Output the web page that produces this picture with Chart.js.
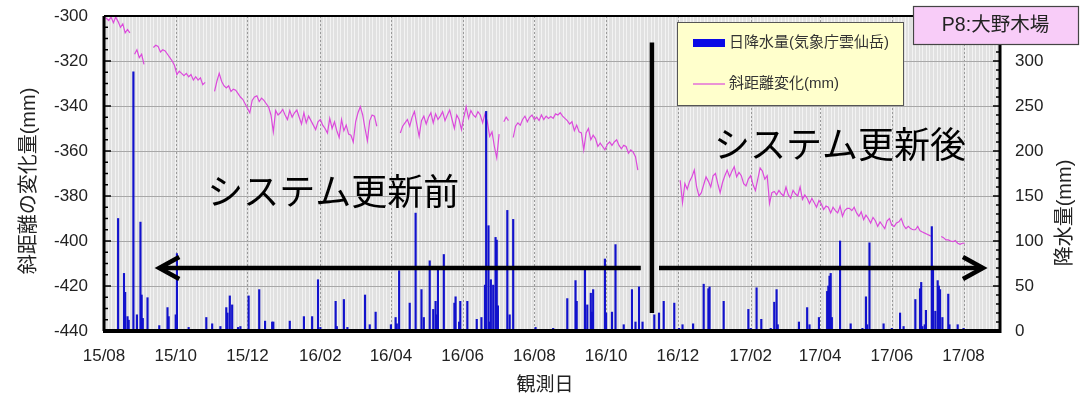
<!DOCTYPE html>
<html>
<head>
<meta charset="utf-8">
<script src="https://cdn.jsdelivr.net/npm/chart.js@4/dist/chart.umd.min.js"></script>
<style>
  html, body { margin: 0; padding: 0; background: #ffffff; }
  #wrap { width: 1090px; height: 398px; position: relative; }
</style>
</head>
<body>
<div id="wrap"><canvas id="c" width="1090" height="398"></canvas></div>
<script>
// ---- axis range and tick labels ----
const axisStart = '2015-08-01';
const axisEnd = '2017-09-01';
const tickDates = ['2015-08-01','2015-10-01','2015-12-01','2016-02-01','2016-04-01','2016-06-01',
                   '2016-08-01','2016-10-01','2016-12-01','2017-02-01','2017-04-01','2017-06-01','2017-08-01'];
const tickLabels = ['15/08','15/10','15/12','16/02','16/04','16/06','16/08','16/10','16/12','17/02','17/04','17/06','17/08'];

// ---- daily precipitation (mm), JMA Unzendake ----
const rainDates = [
  '2015-08-13','2015-08-18','2015-08-19','2015-08-21','2015-08-22','2015-08-26','2015-08-29','2015-09-01','2015-09-02','2015-09-03',
  '2015-09-07','2015-09-17','2015-09-24','2015-09-25','2015-10-01','2015-10-02','2015-10-12','2015-10-27','2015-11-01','2015-11-08',
  '2015-11-13','2015-11-14','2015-11-16','2015-11-18','2015-11-23','2015-11-25','2015-12-02','2015-12-11','2015-12-16','2015-12-22',
  '2015-12-23','2016-01-06','2016-01-18','2016-01-25','2016-01-30','2016-02-01','2016-02-14','2016-02-15','2016-02-21','2016-02-24',
  '2016-03-10','2016-03-14','2016-03-19','2016-04-01','2016-04-05','2016-04-06','2016-04-08','2016-04-17','2016-04-22','2016-04-27',
  '2016-04-29','2016-05-04','2016-05-07','2016-05-09','2016-05-10','2016-05-11','2016-05-16','2016-05-25','2016-05-26','2016-05-29',
  '2016-05-30','2016-06-05','2016-06-13','2016-06-17','2016-06-20','2016-06-21','2016-06-23','2016-06-24','2016-06-25','2016-06-27',
  '2016-06-29','2016-06-30','2016-07-01','2016-07-09','2016-07-11','2016-07-14','2016-08-02','2016-08-17','2016-08-29','2016-09-05',
  '2016-09-06','2016-09-13','2016-09-15','2016-09-18','2016-09-19','2016-09-20','2016-09-30','2016-10-01','2016-10-06','2016-10-09',
  '2016-10-16','2016-10-23','2016-10-26','2016-10-29','2016-11-01','2016-11-11','2016-11-15','2016-11-19','2016-11-28','2016-12-02',
  '2016-12-05','2016-12-14','2016-12-23','2016-12-27','2016-12-28','2017-01-09','2017-01-30','2017-02-01','2017-02-06','2017-02-10',
  '2017-02-18','2017-02-21','2017-02-23','2017-02-24','2017-03-14','2017-03-21','2017-03-23','2017-03-31','2017-04-07','2017-04-08',
  '2017-04-09','2017-04-10','2017-04-11','2017-04-18','2017-04-27','2017-05-07','2017-05-10','2017-05-11','2017-05-13','2017-05-25',
  '2017-06-01','2017-06-08','2017-06-11','2017-06-21','2017-06-25','2017-06-26','2017-06-27','2017-06-29','2017-06-30','2017-07-05',
  '2017-07-06','2017-07-08','2017-07-10','2017-07-11','2017-07-12','2017-07-14','2017-07-19','2017-07-20','2017-07-27','2017-08-01'
];
const rainValues = [
  125, 64, 43, 16, 12, 288, 18, 121, 40, 14,
  37, 6, 26, 16, 18, 86, 4, 15, 8, 5,
  26, 20, 39, 29, 4, 5, 39, 46, 11, 10,
  10, 11, 16, 16, 57, 4, 33, 5, 35, 4,
  40, 7, 21, 7, 15, 8, 67, 31, 131, 46,
  15, 78, 24, 33, 18, 68, 85, 31, 38, 10,
  33, 33, 13, 15, 51, 244, 117, 10, 57, 51,
  104, 101, 28, 134, 18, 124, 4, 3, 36, 56,
  33, 68, 29, 42, 21, 46, 80, 20, 21, 96,
  7, 46, 10, 49, 10, 18, 20, 33, 31, 3,
  7, 8, 52, 47, 49, 33, 24, 3, 48, 13,
  3, 32, 46, 7, 10, 26, 7, 15, 44, 50,
  61, 64, 15, 100, 8, 3, 38, 7, 98, 8,
  3, 20, 5, 35, 47, 54, 5, 7, 23, 116,
  72, 22, 56, 50, 46, 15, 41, 7, 7, 3
];

// ---- slope distance change (mm), sampled every 2 days; each run is a continuous record ----
const distStepDays = 2;
const distRunStarts = ['2015-08-01','2015-08-27','2015-09-12','2015-11-03','2016-04-09','2016-07-06','2016-07-14','2016-12-03','2017-07-13'];
const distRun1 = [-300.5,-301,-302,-300.5,-303,-300.5,-302.5,-305,-303.5,-307.5,-306,-307.5];
const distRun2 = [-317,-315,-318.5,-317,-321.5];
const distRun3 = [-314,-313,-313.5,-316,-315,-315.5,-317,-318.5,-320,-322,-326,-324.5,-325.5,-326.5,-325.5,-327,-326,-328.5,-327,-328.5,-327.5,-330.5,-329.5];
const distRun4 = [
  -333.5,-329,-325.5,-329,-331,-332,-331,-333.5,-332.5,-333,-334.5,-336,-337,-339,-341,-343,-337.5,-336,-335.5,-338,
  -336.5,-337.5,-339,-340.5,-344,-351.5,-342,-344,-343,-341.5,-344,-346,-342,-345,-343,-341.8,-345,-348,-343,-347.5,
  -344.5,-346.5,-348.5,-350.5,-347,-346,-348.5,-350,-352,-345.5,-350,-347,-351,-354,-346,-351,-348.5,-352.5,-353,-356,
  -347,-343,-340.3,-344,-350,-355.5,-346.5,-344,-344.5,-349
];
const distRun5 = [
  -352,-349,-347.5,-346,-349,-345,-342.5,-348,-353.5,-346.5,-344.5,-348,-345,-343,-347.5,-343.5,-346,-344.5,-342.5,-346.5,
  -344,-341.8,-346,-350,-344,-346,-350.5,-345,-340.3,-345.5,-342,-344,-345,-342.5,-344,-347.5,-343.5,-347,-353.5,-351.5,
  -358,-363,-352.5
];
const distRun6 = [-347,-345,-346.5];
const distRun7 = [
  -354,-349,-347.5,-348.5,-346,-344.5,-347,-345,-344,-346,-345,-346.5,-344,-346,-344.5,-345.5,-344.7,-345.5,-343.5,-344,
  -343,-344.5,-345.5,-346.5,-348,-347,-351,-348.5,-351.5,-352,-359.5,-352,-350,-355,-353,-354.5,-358,-356.5,-358,-359.5,
  -357,-356,-357.5,-356,-355,-357.5,-359,-357.5,-358,-361,-359.5,-360.5,-362.5,-368.5
];
const distRun8 = [
  -373,-383,-374.5,-377,-373.5,-371.5,-368.5,-376,-380,-378.5,
  -375,-371.5,-373.5,-376,-371,-370,-374.5,-378.5,-374,-371,
  -368.5,-371.5,-369,-367,-371.5,-369.5,-371,-374.5,-375.5,-372.5,
  -371,-375,-377.5,-372.5,-367.5,-369,-372.5,-371,-383.3,-378.5,
  -378,-379.5,-377.5,-379,-380,-376,-379.5,-381,-377.5,-379,
  -380,-376,-381.5,-379.5,-381,-383.3,-381,-383,-385,-382,
  -383.5,-386,-384.5,-385,-387.5,-385,-386.5,-387.5,-384.5,-389,
  -386.5,-385.5,-385.5,-386.5,-385,-387.5,-389,-387,-390.5,-388.5,
  -390,-392,-389.5,-391,-393.5,-391.5,-393,-394.5,-391,-390,
  -393,-393.5,-392,-391.5,-390,-393,-394.5,-393.5,-394.5,-395,
  -395,-393.5,-395.5,-396,-396.5,-397,-397.5,-398
];
const distRun9 = [-398,-398.5,-399.5,-399.5,-400,-400.3,-399.8,-401,-401.5,-401,-401];
const distRuns = [distRun1, distRun2, distRun3, distRun4, distRun5, distRun6, distRun7, distRun8, distRun9];

const rainLabel = '日降水量(気象庁雲仙岳)';
const distLabel = '斜距離変化(mm)';
const stationLabel = 'P8:大野木場';
const beforeLabel = 'システム更新前';
const afterLabel = 'システム更新後';

// ---- helpers ----
const FONT = '"Liberation Sans", "Noto Sans CJK JP", Arial, sans-serif';
const CJK = '"Noto Sans CJK JP", "Liberation Sans", sans-serif';
const ORIGIN = (() => { const p = axisStart.split('-').map(Number); return Date.UTC(p[0], p[1] - 1, p[2]); })();
function dayOf(s) {
  const p = s.split('-').map(Number);
  return Math.round((Date.UTC(p[0], p[1] - 1, p[2]) - ORIGIN) / 86400000);
}

const rainPoints = rainDates.map((s, i) => ({ x: dayOf(s), y: rainValues[i] }));
const distPoints = [];
distRunStarts.forEach((s, k) => {
  const d0 = dayOf(s);
  const run = distRuns[k];
  run.forEach((v, i) => distPoints.push({ x: d0 + i * distStepDays, y: v }));
  distPoints.push({ x: d0 + (run.length - 1) * distStepDays + 1, y: null });
});
const tickDays = tickDates.map(dayOf);

// annotation anchors (data units)
const updateDay = dayOf('2016-11-09');
const arrowLevel = -412;
const arrowLeftTip = 47, arrowLeftEnd = 456.5, arrowRightStart = 472, arrowRightTip = 747.5;

const framePlugin = {
  id: 'frame',
  beforeDatasetsDraw(chart) {
    const { ctx, chartArea: a, scales } = chart;
    ctx.save();
    ctx.fillStyle = '#e1e1e1';
    ctx.fillRect(a.left, a.top, a.right - a.left, a.bottom - a.top);
    // fine vertical grid
    ctx.strokeStyle = '#f3f3f3';
    ctx.lineWidth = 1;
    const xs = scales.x;
    for (let d = 0; d <= xs.max; d += 3) {
      const px = Math.round(xs.getPixelForValue(d)) + 0.5;
      ctx.beginPath(); ctx.moveTo(px, a.top); ctx.lineTo(px, a.bottom); ctx.stroke();
    }
    // major vertical grid (dotted)
    ctx.strokeStyle = '#9a9a9a';
    ctx.setLineDash([2, 2]);
    tickDays.forEach(d => {
      const px = Math.round(xs.getPixelForValue(d)) + 0.5;
      ctx.beginPath(); ctx.moveTo(px, a.top); ctx.lineTo(px, a.bottom); ctx.stroke();
    });
    ctx.setLineDash([]);
    // horizontal grid
    ctx.strokeStyle = '#a8a8a8';
    for (let v = -420; v < -300; v += 20) {
      const py = Math.round(scales.y.getPixelForValue(v)) + 0.5;
      ctx.beginPath(); ctx.moveTo(a.left, py); ctx.lineTo(a.right, py); ctx.stroke();
    }
    ctx.restore();
  },
  afterDatasetsDraw(chart) {
    const { ctx, chartArea: a, scales } = chart;
    ctx.save();
    ctx.strokeStyle = '#000';
    // axis ticks
    ctx.lineWidth = 1.5;
    for (let v = -440; v <= -300; v += 5) {
      const py = scales.y.getPixelForValue(v);
      const len = (v % 20 === 0) ? 7 : 4;
      ctx.beginPath(); ctx.moveTo(a.left, py); ctx.lineTo(a.left + len, py); ctx.stroke();
    }
    for (let v = 0; v <= 350; v += 10) {
      const py = scales.y2.getPixelForValue(v);
      const len = (v % 50 === 0) ? 7 : 4;
      ctx.beginPath(); ctx.moveTo(a.right, py); ctx.lineTo(a.right - len, py); ctx.stroke();
    }
    // frame
    ctx.lineWidth = 2;
    ctx.beginPath(); ctx.moveTo(a.left, a.top); ctx.lineTo(a.right, a.top); ctx.stroke();
    ctx.lineWidth = 3;
    ctx.beginPath(); ctx.moveTo(a.left, a.top); ctx.lineTo(a.left, a.bottom); ctx.stroke();
    ctx.beginPath(); ctx.moveTo(a.right, a.top); ctx.lineTo(a.right, a.bottom + 2); ctx.stroke();
    ctx.lineWidth = 4;
    ctx.beginPath(); ctx.moveTo(a.left - 1, a.bottom); ctx.lineTo(a.right + 1, a.bottom); ctx.stroke();

    // system update divider and period arrows
    const X = d => scales.x.getPixelForValue(d);
    const Y = v => scales.y.getPixelForValue(v);
    ctx.lineWidth = 4.5;
    ctx.beginPath(); ctx.moveTo(X(updateDay), Y(-311.8)); ctx.lineTo(X(updateDay), Y(-432)); ctx.stroke();
    const ay = Y(arrowLevel);
    ctx.lineCap = 'butt';
    ctx.beginPath(); ctx.moveTo(X(arrowLeftTip) + 2, ay); ctx.lineTo(X(arrowLeftEnd), ay); ctx.stroke();
    ctx.beginPath(); ctx.moveTo(X(arrowRightStart), ay); ctx.lineTo(X(arrowRightTip) - 2, ay); ctx.stroke();
    ctx.lineJoin = 'miter';
    ctx.beginPath();
    ctx.moveTo(X(arrowLeftTip) + 20, ay - 11); ctx.lineTo(X(arrowLeftTip), ay); ctx.lineTo(X(arrowLeftTip) + 20, ay + 11);
    ctx.stroke();
    ctx.beginPath();
    ctx.moveTo(X(arrowRightTip) - 20, ay - 11); ctx.lineTo(X(arrowRightTip), ay); ctx.lineTo(X(arrowRightTip) - 20, ay + 11);
    ctx.stroke();

    ctx.fillStyle = '#000';
    ctx.font = '36px ' + CJK;
    ctx.textAlign = 'center';
    ctx.textBaseline = 'middle';
    ctx.fillText(beforeLabel, X(195), Y(-378));
    ctx.fillText(afterLabel, X(626), Y(-357));
    ctx.restore();
  },
  afterDraw(chart) {
    const { ctx, chartArea: a } = chart;
    ctx.save();
    // axis titles
    ctx.fillStyle = '#222';
    ctx.font = '20px ' + FONT;
    ctx.textAlign = 'center';
    ctx.textBaseline = 'middle';
    ctx.save(); ctx.translate(29, 181); ctx.rotate(-Math.PI / 2); ctx.fillText('斜距離の変化量(mm)', 0, 0); ctx.restore();
    ctx.save(); ctx.translate(1065, 213); ctx.rotate(-Math.PI / 2); ctx.fillText('降水量(mm)', 0, 0); ctx.restore();
    ctx.font = '19px ' + FONT;
    ctx.fillText('観測日', 545, 386);

    // legend
    const lx = a.left + 573, ly = a.top + 6, lw = 226, lh = 83;
    ctx.fillStyle = '#ffffcc';
    ctx.fillRect(lx, ly, lw, lh);
    ctx.strokeStyle = '#555';
    ctx.lineWidth = 1;
    ctx.strokeRect(lx + 0.5, ly + 0.5, lw, lh);
    ctx.fillStyle = '#0a0ae6';
    ctx.fillRect(lx + 16, ly + 17, 32, 8);
    ctx.strokeStyle = '#dc4adc';
    ctx.lineWidth = 1.2;
    ctx.beginPath(); ctx.moveTo(lx + 16, ly + 62); ctx.lineTo(lx + 48, ly + 62); ctx.stroke();
    ctx.fillStyle = '#333';
    ctx.font = '15px ' + FONT;
    ctx.textAlign = 'left';
    ctx.fillText(rainLabel, lx + 52, ly + 21);
    ctx.fillText(distLabel, lx + 52, ly + 62);

    // station tag
    const sx = 913, sy = 6, sw = 165, sh = 38;
    ctx.fillStyle = '#f8ccf8';
    ctx.fillRect(sx, sy, sw, sh);
    ctx.strokeStyle = '#444';
    ctx.strokeRect(sx + 0.5, sy + 0.5, sw, sh);
    ctx.fillStyle = '#222';
    ctx.font = '19.5px ' + FONT;
    ctx.textAlign = 'center';
    ctx.fillText(stationLabel, sx + sw / 2, sy + sh / 2 + 1);
    ctx.restore();
  }
};

new Chart(document.getElementById('c'), {
  data: {
    datasets: [
      {
        type: 'bar', label: rainLabel, data: rainPoints, yAxisID: 'y2', xAxisID: 'x',
        backgroundColor: '#1212cc', barThickness: 1.5, order: 0
      },
      {
        type: 'line', label: distLabel, data: distPoints, yAxisID: 'y', xAxisID: 'x',
        borderColor: '#dc4adc', borderWidth: 1.2, pointRadius: 0, tension: 0, spanGaps: false, order: 1
      }
    ]
  },
  options: {
    responsive: false,
    animation: false,
    devicePixelRatio: 1,
    layout: { padding: { top: 16, left: 0, right: 0, bottom: 0 } },
    plugins: { legend: { display: false }, tooltip: { enabled: false } },
    scales: {
      x: {
        type: 'linear', position: 'bottom', min: 0, max: dayOf(axisEnd), offset: false,
        grid: { display: false, drawTicks: false, offset: false }, border: { display: false },
        afterBuildTicks: s => { s.ticks = tickDays.map(v => ({ value: v })); },
        afterFit: s => { s.height = 67; s.paddingLeft = 0; s.paddingRight = 0; },
        ticks: {
          autoSkip: false, maxRotation: 0, padding: 15, color: '#222',
          font: { size: 17, family: FONT },
          callback: v => { const i = tickDays.indexOf(v); return i >= 0 ? tickLabels[i] : ''; }
        }
      },
      y: {
        position: 'left', min: -440, max: -300,
        grid: { display: false, drawTicks: false }, border: { display: false },
        afterFit: s => { s.width = 104; s.paddingTop = 0; s.paddingBottom = 0; },
        ticks: { stepSize: 20, padding: 16, color: '#222', font: { size: 17, family: FONT } }
      },
      y2: {
        position: 'right', min: 0, max: 350,
        grid: { display: false, drawTicks: false }, border: { display: false },
        afterFit: s => { s.width = 90; s.paddingTop = 0; s.paddingBottom = 0; },
        ticks: { stepSize: 50, padding: 15, color: '#222', font: { size: 17, family: FONT } }
      }
    }
  },
  plugins: [framePlugin]
});
</script>
</body>
</html>
